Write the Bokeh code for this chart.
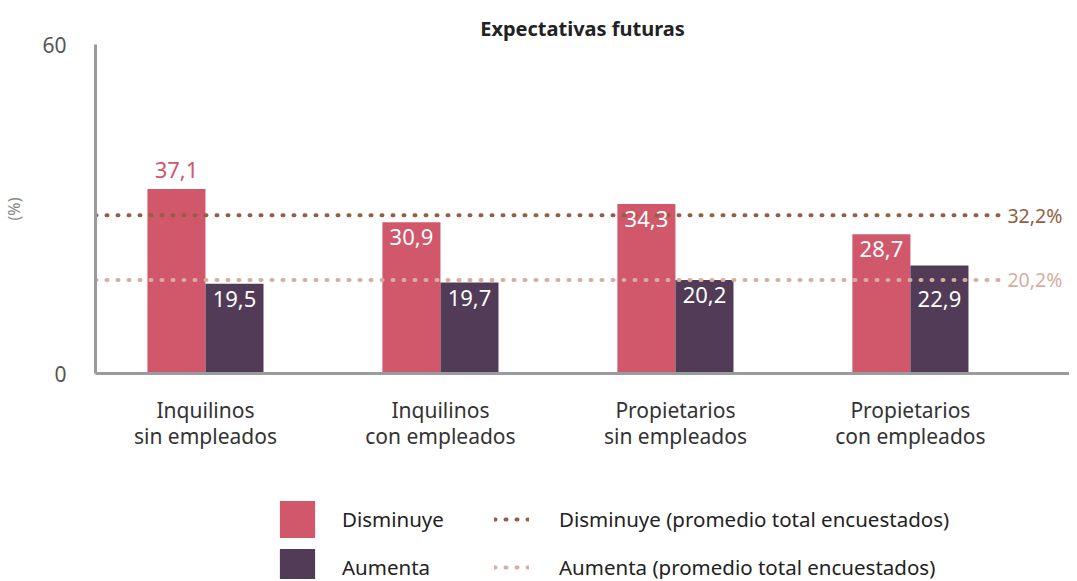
from bokeh.plotting import figure
from bokeh.layouts import column
from bokeh.models import (ColumnDataSource, Range1d, FixedTicker, CustomJSTickFormatter,
                          Legend, LegendItem, Title, Label)
from bokeh.core.properties import value
from bokeh.transform import dodge
from bokeh.embed import file_html
from bokeh.resources import INLINE

# ---- data ----
categories = ["Inquilinos\nsin empleados", "Inquilinos\ncon empleados",
              "Propietarios\nsin empleados", "Propietarios\ncon empleados"]
disminuye = [37.1, 30.9, 34.3, 28.7]
aumenta = [19.5, 19.7, 20.2, 22.9]
avg_disminuye = 32.2
avg_aumenta = 20.2
y_tick_labels = ["0", "60"]
series_labels = ["Disminuye", "Aumenta"]
avg_labels = ["Disminuye (promedio total encuestados)", "Aumenta (promedio total encuestados)"]

# ---- style ----
FONT = "Noto Sans"
PINK = "#D1576A"
PURPLE = "#513B56"
DARK_DOT = "#935F42"
LIGHT_DOT = "#D6AE9F"
AXIS_GRAY = "#9A9B9E"
W = 1069
aum_label_offsets = [7, 7, 7, 26]   # push the last label below the average line

xs = [i + 1 for i in range(len(categories))]
src = ColumnDataSource(dict(x=xs, dis=disminuye, aum=aumenta,
                            dis_lbl=[f"{v:.1f}".replace(".", ",") for v in disminuye],
                            aum_lbl=[f"{v:.1f}".replace(".", ",") for v in aumenta],
                            aum_off=aum_label_offsets))

y_lo, y_hi = 2.83, 63.9
x_lo, x_hi = 0.532, 4.677
p = figure(width=W, height=471, output_backend="svg", toolbar_location=None,
           x_range=Range1d(x_lo, x_hi), y_range=Range1d(y_lo, y_hi),
           min_border_left=88, min_border_right=0, min_border_top=44, min_border_bottom=98)
p.outline_line_color = None
p.grid.grid_line_color = None

p.title = Title(text="Expectativas futuras", align="center", text_font=FONT,
                text_font_size="20px", text_font_style="bold", text_color="#222222",
                offset=0, standoff=6)

bw = 0.247
p.vbar(x=dodge("x", -bw / 2), top="dis", bottom=0, width=bw, source=src,
       fill_color=PINK, line_color=None)
p.vbar(x=dodge("x", bw / 2), top="aum", bottom=0, width=bw, source=src,
       fill_color=PURPLE, line_color=None)

# average lines
line_end = 4.387
p.segment(x0=x_lo, x1=line_end, y0=avg_disminuye, y1=avg_disminuye,
          line_color=DARK_DOT, line_width=4, line_dash="1 10", line_cap="round")
p.segment(x0=x_lo, x1=line_end, y0=avg_aumenta, y1=avg_aumenta,
          line_color=LIGHT_DOT, line_width=4, line_dash="1 10", line_cap="round")
for val, col in [(avg_disminuye, DARK_DOT), (avg_aumenta, LIGHT_DOT)]:
    p.add_layout(Label(x=line_end + 0.026, y=val, text=f"{val:.1f}%".replace(".", ","),
                       text_font=FONT, text_font_size="19.5px", text_color=col,
                       text_baseline="middle", text_align="left"))

# value labels
dis_above = [True, False, False, False]
for i, above in enumerate(dis_above):
    p.text(x=[xs[i] - bw / 2], y=[disminuye[i]], text=[src.data["dis_lbl"][i]],
           text_font=value(FONT), text_font_size="22px",
           text_color=PINK if above else "white",
           text_baseline="bottom" if above else "top", text_align="center",
           y_offset=-11 if above else 7)
p.text(x=dodge("x", bw / 2), y="aum", text="aum_lbl", source=src,
       text_font=value(FONT), text_font_size="22px", text_color="white",
       text_baseline="top", text_align="center", y_offset="aum_off")

# axes
p.xaxis.ticker = FixedTicker(ticks=xs)
p.xaxis.major_label_overrides = {x: c for x, c in zip(xs, categories)}
p.xaxis.major_label_text_font = FONT
p.xaxis.major_label_text_font_size = "21px"
p.xaxis.major_label_text_color = "#333333"
p.xaxis.major_label_text_line_height = 0.95
p.xaxis.major_label_standoff = 16
p.xaxis.major_tick_line_color = None
p.xaxis.minor_tick_line_color = None
p.xaxis.axis_line_color = AXIS_GRAY
p.xaxis.axis_line_width = 3

p.yaxis.ticker = FixedTicker(ticks=[y_lo, y_hi])
p.yaxis.formatter = CustomJSTickFormatter(
    args=dict(lo=y_lo, labels=y_tick_labels),
    code="return tick <= lo + 0.001 ? labels[0] : labels[1];")
p.yaxis.major_label_text_font = FONT
p.yaxis.major_label_text_font_size = "21px"
p.yaxis.major_label_text_color = "#555555"
p.yaxis.major_label_standoff = 23
p.yaxis.major_tick_line_color = None
p.yaxis.minor_tick_line_color = None
p.yaxis.axis_line_color = AXIS_GRAY
p.yaxis.axis_line_width = 3
p.yaxis.axis_label = "(%)"
p.yaxis.axis_label_text_font = FONT
p.yaxis.axis_label_text_font_size = "16px"
p.yaxis.axis_label_text_font_style = "normal"
p.yaxis.axis_label_text_color = "#888888"
p.yaxis.axis_label_standoff = 14

# ---- legend panel ----
q = figure(width=W, height=108, output_backend="svg", toolbar_location=None,
           x_range=Range1d(0, 1), y_range=Range1d(0, 1),
           min_border_left=0, min_border_right=0, min_border_top=0, min_border_bottom=0)
q.axis.visible = False
q.grid.grid_line_color = None
q.outline_line_color = None
# legend-only renderers (their single point lies outside the visible range)
lg_dis = q.vbar(x=[10], top=[1], width=1, fill_color=PINK, line_color=None)
lg_aum = q.vbar(x=[10], top=[1], width=1, fill_color=PURPLE, line_color=None)
lg_ld = q.segment(x0=[10], x1=[11], y0=[0.5], y1=[0.5], line_color=DARK_DOT, line_width=4,
                  line_dash="1 10", line_cap="round")
lg_la = q.segment(x0=[10], x1=[11], y0=[0.5], y1=[0.5], line_color=LIGHT_DOT, line_width=4,
                  line_dash="1 10", line_cap="round")

common = dict(glyph_height=46, spacing=2, padding=0,
              margin=0, border_line_color=None, background_fill_alpha=0,
              label_text_font=FONT, label_text_font_size="20.5px", label_text_color="#222222")
leg1 = Legend(items=[LegendItem(label=series_labels[0], renderers=[lg_dis], index=0),
                     LegendItem(label=series_labels[1], renderers=[lg_aum], index=0)],
              location=(180, -11), glyph_width=44, label_standoff=23, **common)
leg2 = Legend(items=[LegendItem(label=avg_labels[0], renderers=[lg_ld], index=0),
                     LegendItem(label=avg_labels[1], renderers=[lg_la], index=0)],
              location=(399, -11), glyph_width=35, label_standoff=30, **common)
q.add_layout(leg1, "center")
q.add_layout(leg2, "center")

open("out.html", "w").write(file_html(column(p, q, spacing=0), INLINE))
